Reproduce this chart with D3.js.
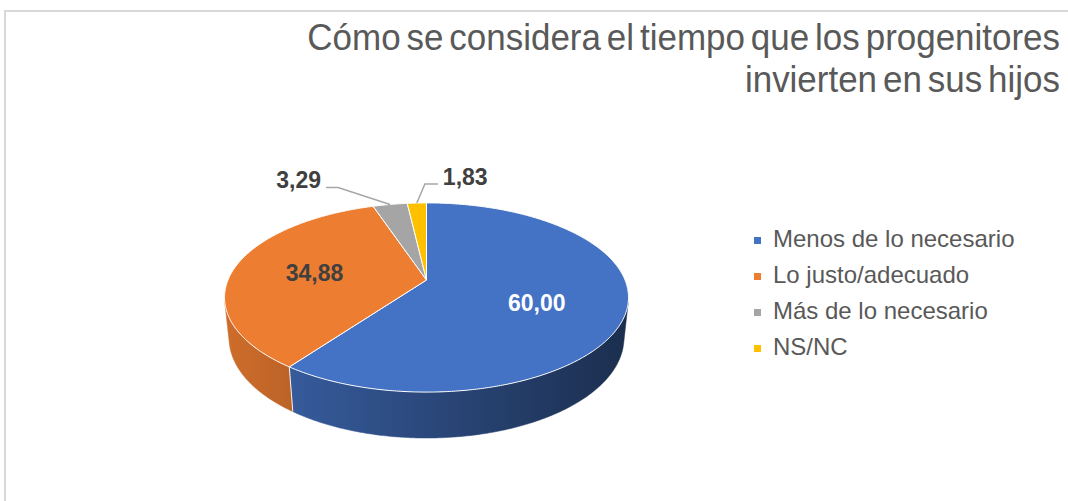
<!DOCTYPE html>
<html>
<head>
<meta charset="utf-8">
<script src="https://cdn.jsdelivr.net/npm/d3@7"></script>
<style>
  body { margin: 0; background: #fff; }
  svg { display: block; font-family: "Liberation Sans", Arial, sans-serif; }
</style>
</head>
<body>
<svg width="1068" height="501"></svg>
<script>
const categories = ['Menos de lo necesario', 'Lo justo/adecuado', 'Más de lo necesario', 'NS/NC']
const values = [60.00, 34.88, 3.29, 1.83]
const colors = ['#4472C4', '#ED7D31', '#A5A5A5', '#FFC000']
const titleLines = ['Cómo se considera el tiempo que los progenitores', 'invierten en sus hijos']

const width = 1068, height = 501
const svg = d3.select('svg')

/* 3D PIE PROJECTION SETTINGS */
const cx = 426.5, cy = 280, S = 198.5
const tilt = 27.4 * Math.PI / 180
const D = 4.8, h = 0.2325
const sinT = Math.sin(tilt), cosT = Math.cos(tilt)

function project(a, r, z) {
  const x = r * Math.sin(a), y = r * Math.cos(a)
  const d = D + y * cosT - z * sinT
  return [cx + S * x * D / d, cy - S * (y * sinT + z * cosT) * D / d]
}

// wall faces the camera where cos(a) < -1/(D cos tilt)
const visLimit = Math.acos(-1 / (D * cosT))
const vis0 = visLimit, vis1 = 2 * Math.PI - visLimit

const fmt = d3.formatLocale({ decimal: ',', thousands: '.', grouping: [3], currency: ['', ''] }).format('.2f')

const pie = d3.pie().sort(null).value(d => d)
const arcs = pie(values)
const line = d3.line()
const step = Math.PI / 360

function arcPoints(a0, a1, z) {
  const n = Math.max(2, Math.ceil((a1 - a0) / step))
  return d3.range(n + 1).map(i => project(a0 + (a1 - a0) * i / n, 1, z))
}

/* BORDER */
svg.append('rect')
  .attr('x', 5).attr('y', 11)
  .attr('width', width + 20).attr('height', height + 20)
  .attr('fill', 'none')
  .attr('stroke', '#d9d9d9')
  .attr('stroke-width', 2)

/* TITLE (slightly condensed) */
svg.selectAll('text.title')
  .data(titleLines)
  .enter().append('text')
  .attr('class', 'title')
  .attr('transform', (d, i) => `translate(1060, ${50 + i * 42}) scale(0.945, 1)`)
  .attr('text-anchor', 'end')
  .attr('font-size', 37)
  .attr('word-spacing', -4)
  .attr('fill', '#595959')
  .text(d => d)

/* SIDE GRADIENTS */
const defs = svg.append('defs')
colors.forEach((c, i) => {
  const g = defs.append('linearGradient')
    .attr('id', 'side' + i)
    .attr('gradientUnits', 'userSpaceOnUse')
    .attr('x1', 225).attr('x2', 628).attr('y1', 0).attr('y2', 0)
  const base = d3.rgb(c)
  d3.range(0, 1.01, 0.25).forEach(t => {
    const f = 0.87 - 0.47 * t
    g.append('stop')
      .attr('offset', t)
      .attr('stop-color', d3.rgb(base.r * f, base.g * f, base.b * f).formatHex())
  })
})

const chart = svg.append('g')

/* SIDE WALLS */
arcs.forEach((d, i) => {
  const a0 = Math.max(d.startAngle, vis0), a1 = Math.min(d.endAngle, vis1)
  if (a1 <= a0) return
  const pts = arcPoints(a0, a1, 0).concat(arcPoints(a0, a1, -h).reverse())
  chart.append('path')
    .attr('d', line(pts) + 'Z')
    .attr('fill', `url(#side${i})`)
    .attr('stroke', `url(#side${i})`)
    .attr('stroke-width', 0.5)
})

/* SEAMS ON WALL */
arcs.forEach(d => {
  const a = d.startAngle
  if (a > vis0 && a < vis1) {
    chart.append('path')
      .attr('d', line([project(a, 1, 0), project(a, 1, -h)]))
      .attr('stroke', '#f2f2f2')
      .attr('stroke-width', 1)
  }
})

/* TOP FACES */
arcs.forEach((d, i) => {
  const pts = [project(0, 0, 0)].concat(arcPoints(d.startAngle, d.endAngle, 0))
  chart.append('path')
    .attr('d', line(pts) + 'Z')
    .attr('fill', colors[i])
    .attr('stroke', '#ffffff')
    .attr('stroke-width', 1)
    .attr('stroke-linejoin', 'round')
})

/* DATA LABELS */
const labelColors = ['#ffffff', '#404040', '#404040', '#404040']
const inside = [true, true, false, false]
// outside label leader layout: elbow offset from rim point, horizontal run
const leaders = { 2: { dx: -52, dy: -17, run: -12 }, 3: { dx: 8, dy: -19, run: 13 } }

arcs.forEach((d, i) => {
  const mid = (d.startAngle + d.endAngle) / 2
  if (inside[i]) {
    const p = project(mid, 0.58, 0)
    chart.append('text')
      .attr('x', p[0] - (i === 0 ? 3 : 0)).attr('y', p[1] + (i === 0 ? 6 : 1))
      .attr('text-anchor', 'middle')
      .attr('dominant-baseline', 'central')
      .attr('font-size', 23)
      .attr('font-weight', 'bold')
      .attr('fill', labelColors[i])
      .text(fmt(values[i]))
  } else {
    const L = leaders[i]
    const p = project(mid, 1, 0)
    const e = [p[0] + L.dx, p[1] + L.dy]
    const t = [e[0] + L.run, e[1]]
    chart.append('path')
      .attr('d', line([p, e, t]))
      .attr('fill', 'none')
      .attr('stroke', '#a6a6a6')
      .attr('stroke-width', 1.5)
    chart.append('text')
      .attr('x', t[0] + (L.run < 0 ? -5 : 5))
      .attr('y', t[1] + 1)
      .attr('text-anchor', L.run < 0 ? 'end' : 'start')
      .attr('font-size', 23)
      .attr('font-weight', 'bold')
      .attr('fill', labelColors[i])
      .text(fmt(values[i]))
  }
})

/* LEGEND */
const legend = svg.append('g')
  .attr('transform', 'translate(754, 0)')

const rowY = d3.scalePoint()
  .domain(categories)
  .range([247, 355])

const items = legend.selectAll('g.item')
  .data(categories)
  .enter().append('g')
  .attr('class', 'item')
  .attr('transform', d => `translate(0, ${rowY(d)})`)

items.append('rect')
  .attr('x', 0).attr('y', -10)
  .attr('width', 7).attr('height', 7)
  .attr('fill', (d, i) => colors[i])

items.append('text')
  .attr('x', 19).attr('y', 0)
  .attr('font-size', 24)
  .attr('fill', '#595959')
  .text(d => d)
</script>
</body>
</html>
